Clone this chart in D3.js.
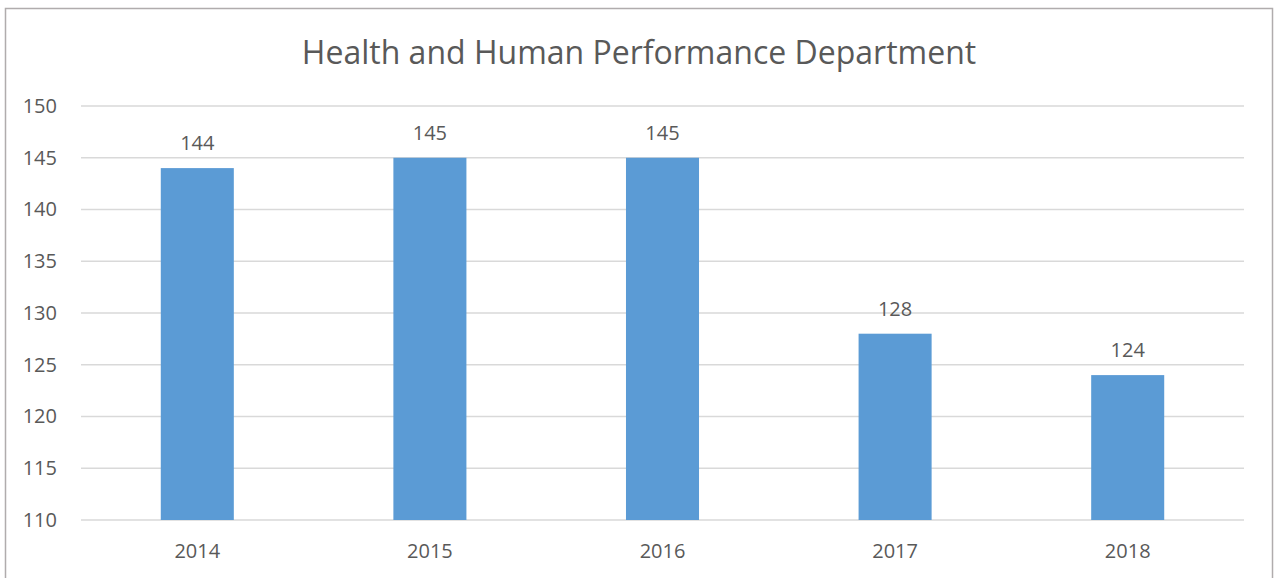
<!DOCTYPE html>
<html>
<head>
<meta charset="utf-8">
<script src="https://cdn.jsdelivr.net/npm/d3@7"></script>
<style>
  body { margin: 0; background: #fff; }
  text { font-family: "Open Sans", sans-serif; fill: #595959; }
</style>
</head>
<body>
<div id="chart"></div>
<script>
// chart data
var years = ["2014", "2015", "2016", "2017", "2018"];
var counts = [144, 145, 145, 128, 124];
var yTicks = [110, 115, 120, 125, 130, 135, 140, 145, 150];
var chartTitle = "Health and Human Performance Department";

var svgWidth = 1274;
var svgHeight = 578;

var margin = { top: 106, right: 30, bottom: 58, left: 81 };
var chartWidth = 1244 - margin.left;
var chartHeight = 520 - margin.top;

var svg = d3.select("#chart")
  .append("svg")
  .attr("width", svgWidth)
  .attr("height", svgHeight);

// outer frame (bottom edge is off the picture)
svg.append("rect")
  .attr("x", 5.5)
  .attr("y", 8.5)
  .attr("width", 1267)
  .attr("height", 600)
  .attr("fill", "none")
  .attr("stroke", "#b0acad")
  .attr("stroke-width", 1.5);

svg.append("text")
  .attr("x", 639)
  .attr("y", 64)
  .attr("text-anchor", "middle")
  .style("font-size", "32px")
  .text(chartTitle);

var chartGroup = svg.append("g")
  .attr("transform", `translate(${margin.left}, ${margin.top})`);

var xScale = d3.scaleBand()
  .domain(years)
  .range([0, chartWidth])
  .paddingInner(0.686)
  .paddingOuter(0.343);

var yScale = d3.scaleLinear()
  .domain([110, 150])
  .range([chartHeight, 0]);

// gridlines
chartGroup.selectAll(".grid")
  .data(yTicks)
  .enter()
  .append("line")
  .attr("class", "grid")
  .attr("x1", 0)
  .attr("x2", chartWidth)
  .attr("y1", function(d) { return yScale(d); })
  .attr("y2", function(d) { return yScale(d); })
  .attr("stroke", "#d9d9d9")
  .attr("stroke-width", 1.5);

// y axis labels
var yAxis = d3.axisLeft(yScale).tickValues(yTicks).tickSize(0).tickPadding(24);
var yAxisG = chartGroup.append("g").call(yAxis);
yAxisG.select(".domain").remove();
yAxisG.selectAll("text").style("font-size", "20px").attr("fill", "#595959");

// x axis labels
var xAxis = d3.axisBottom(xScale).tickSize(0).tickPadding(24);
var xAxisG = chartGroup.append("g")
  .attr("transform", `translate(0, ${chartHeight})`)
  .call(xAxis);
xAxisG.select(".domain").remove();
xAxisG.selectAll("text").style("font-size", "20px").attr("fill", "#595959");

// bars
chartGroup.selectAll(".bar")
  .data(counts)
  .enter()
  .append("rect")
  .attr("class", "bar")
  .attr("x", function(d, i) { return xScale(years[i]); })
  .attr("y", function(d) { return yScale(d); })
  .attr("width", xScale.bandwidth())
  .attr("height", function(d) { return chartHeight - yScale(d); })
  .attr("fill", "#5b9bd5");

// value labels
chartGroup.selectAll(".val")
  .data(counts)
  .enter()
  .append("text")
  .attr("class", "val")
  .attr("x", function(d, i) { return xScale(years[i]) + xScale.bandwidth() / 2; })
  .attr("y", function(d) { return yScale(d) - 18; })
  .attr("text-anchor", "middle")
  .style("font-size", "20px")
  .text(function(d) { return d; });
</script>
</body>
</html>
